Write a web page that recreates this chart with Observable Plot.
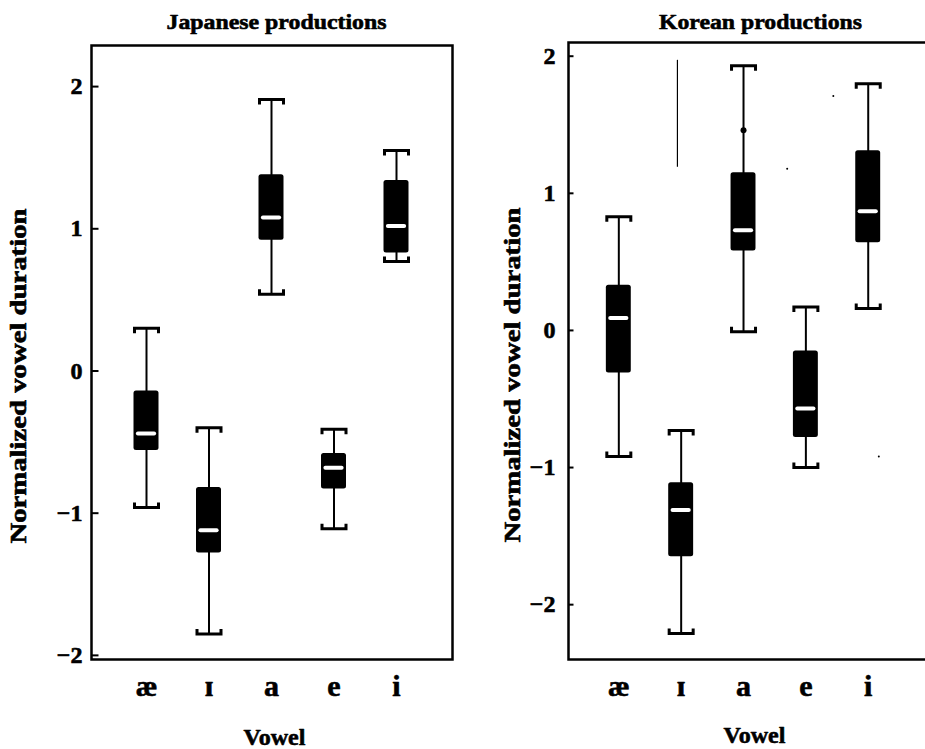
<!DOCTYPE html>
<html><head><meta charset="utf-8">
<script src="https://cdn.jsdelivr.net/npm/d3@7"></script>
<script src="https://cdn.jsdelivr.net/npm/@observablehq/plot@0.6"></script>
<style>
body{margin:0;background:#fff;}
#wrap{position:relative;width:925px;height:749px;overflow:hidden;background:#fff;}
#wrap svg{position:absolute;top:0;}
</style></head><body><div id="wrap"></div>
<script>
const vowels = ["æ", "ɪ", "a", "e", "i"];
const yTicks = [-2, -1, 0, 1, 2];

// Japanese productions: whisker low, Q1, median, Q3, whisker high
const jpLo  = [-0.96, -1.85, 0.54, -1.11, 0.77];
const jpQ1  = [-0.56, -1.28, 0.92, -0.83, 0.83];
const jpMed = [-0.44, -1.12, 1.08, -0.68, 1.02];
const jpQ3  = [-0.14, -0.82, 1.38, -0.58, 1.34];
const jpHi  = [0.30, -0.40, 1.91, -0.41, 1.55];

// Korean productions
const krLo  = [-0.92, -2.21, -0.01, -1.00, 0.16];
const krQ1  = [-0.31, -1.65, 0.58, -0.78, 0.64];
const krMed = [0.09, -1.31, 0.73, -0.57, 0.87];
const krQ3  = [0.33, -1.11, 1.15, -0.15, 1.31];
const krHi  = [0.83, -0.73, 1.93, 0.17, 1.80];
const krOutVowel = ["a"];
const krOutValue = [1.46];
// faint scan specks / stray stroke in the Korean panel
const krSpeckX = [3.44, 2.70, 4.17];
const krSpeckY = [1.71, 1.18, -0.92];
const krStrayX = [0.94];
const krStrayTop = [1.97];
const krStrayBottom = [1.19];

const capTop = {draw(c) { c.moveTo(-12, 5); c.lineTo(-12, 0); c.lineTo(12, 0); c.lineTo(12, 5); }};
const capBot = {draw(c) { c.moveTo(-12, -5); c.lineTo(-12, 0); c.lineTo(12, 0); c.lineTo(12, -5); }};
const tickMark = (len) => ({draw(c) { c.moveTo(0, 0); c.lineTo(len, 0); }});
const fmt = (d) => d < 0 ? "\u2212" + Math.abs(d) : String(d);
const FONT = "'Liberation Serif', 'Times New Roman', 'DejaVu Serif', serif";
const ink = {fill: "#000", stroke: "#000", strokeWidth: 0.6};

function panel(p) {
  const rows = vowels.map((v, i) => ({i, lo: p.lo[i], q1: p.q1[i], med: p.med[i], q3: p.q3[i], hi: p.hi[i]}));
  const idx = vowels.map((v, i) => i);
  const extra = p.extra || [];
  const svg = Plot.plot({
    width: 470, height: 749,
    marginLeft: p.ml, marginRight: p.mr, marginTop: p.mt, marginBottom: p.mb,
    x: {domain: p.xDomain, axis: null},
    y: {domain: p.yDomain, axis: null},
    style: {fontFamily: FONT, fontWeight: "bold", color: "#000", background: "transparent", overflow: "visible"},
    marks: [
      Plot.frame({stroke: "#000", strokeWidth: 2.5}),
      Plot.dot(yTicks, {y: d => d, frameAnchor: "left", symbol: tickMark(p.tickLen), stroke: "#000", fill: "none", strokeWidth: 2}),
      Plot.text(yTicks, {y: d => d, frameAnchor: "left", text: fmt, textAnchor: "end", lineAnchor: "middle", dx: p.tickDx, fontSize: 24, ...ink}),
      Plot.text(idx, {x: d => d, frameAnchor: "bottom", text: d => vowels[d], lineAnchor: "bottom", dy: 36, fontSize: 30, ...ink}),
      Plot.text([p.title], {frameAnchor: "top", lineAnchor: "bottom", dx: p.titleDx, dy: p.titleDy, fontSize: 22, ...ink}),
      Plot.text(["Vowel"], {frameAnchor: "bottom", lineAnchor: "bottom", dx: p.vowDx, dy: p.vowDy, fontSize: 24, ...ink}),
      Plot.text(["Normalized vowel duration"], {frameAnchor: "left", rotate: -90, textAnchor: "start", lineAnchor: "middle", dx: p.labDx, dy: p.labDy, fontSize: 23, ...ink}),
      ...extra,
      Plot.ruleX(rows, {x: "i", y1: "lo", y2: "hi", stroke: "#000", strokeWidth: 2}),
      Plot.dot(rows, {x: "i", y: "hi", symbol: capTop, stroke: "#000", fill: "none", strokeWidth: 3}),
      Plot.dot(rows, {x: "i", y: "lo", symbol: capBot, stroke: "#000", fill: "none", strokeWidth: 3}),
      Plot.rect(rows, {x1: d => d.i - 0.2, x2: d => d.i + 0.2, y1: "q1", y2: "q3", fill: "#000", rx: 2.5}),
      Plot.ruleY(rows, {x1: d => d.i - 0.13, x2: d => d.i + 0.13, y: "med", stroke: "#fff", strokeWidth: 4, strokeLinecap: "round"})
    ]
  });
  const sel = d3.select(svg).selectAll("text");
  sel.filter(function() { return this.textContent === "Normalized vowel duration"; })
    .attr("textLength", 335).attr("lengthAdjust", "spacingAndGlyphs");
  sel.filter(function() { return this.textContent === p.title; })
    .attr("textLength", p.titleLen).attr("lengthAdjust", "spacingAndGlyphs");
  return svg;
}

const left = panel({
  title: "Japanese productions", titleLen: 220,
  lo: jpLo, q1: jpQ1, med: jpMed, q3: jpQ3, hi: jpHi,
  xDomain: [-0.88, 4.896], yDomain: [-2.029, 2.289],
  ml: 91, mr: 18, mt: 45, mb: 90,
  tickDx: -9, tickLen: 7,
  titleDx: 4.5, titleDy: -16.5,
  vowDx: 2.5, vowDy: 85,
  labDx: -73, labDy: 191
});

const right = panel({
  title: "Korean productions", titleLen: 203,
  lo: krLo, q1: krQ1, med: krMed, q3: krQ3, hi: krHi,
  xDomain: [-0.807, 5.079], yDomain: [-2.4, 2.1],
  ml: 98, mr: 5, mt: 42, mb: 90,
  tickDx: -13, tickLen: 5,
  titleDx: 8.5, titleDy: -14,
  vowDx: 2.5, vowDy: 83,
  labDx: -56, labDy: 191.5,
  extra: [
    Plot.ruleX(krStrayX.map((x, k) => k), {x: k => krStrayX[k], y1: k => krStrayTop[k], y2: k => krStrayBottom[k], stroke: "#000", strokeWidth: 1.2}),
    Plot.dot(krSpeckX.map((x, k) => k), {x: k => krSpeckX[k], y: k => krSpeckY[k], r: 1, fill: "#000"}),
    Plot.dot(krOutVowel.map((v, k) => k), {x: k => vowels.indexOf(krOutVowel[k]), y: k => krOutValue[k], r: 3, fill: "#000"})
  ]
});

right.style.left = "470px";
left.style.left = "0px";
document.getElementById("wrap").append(left, right);
</script>
</body></html>
